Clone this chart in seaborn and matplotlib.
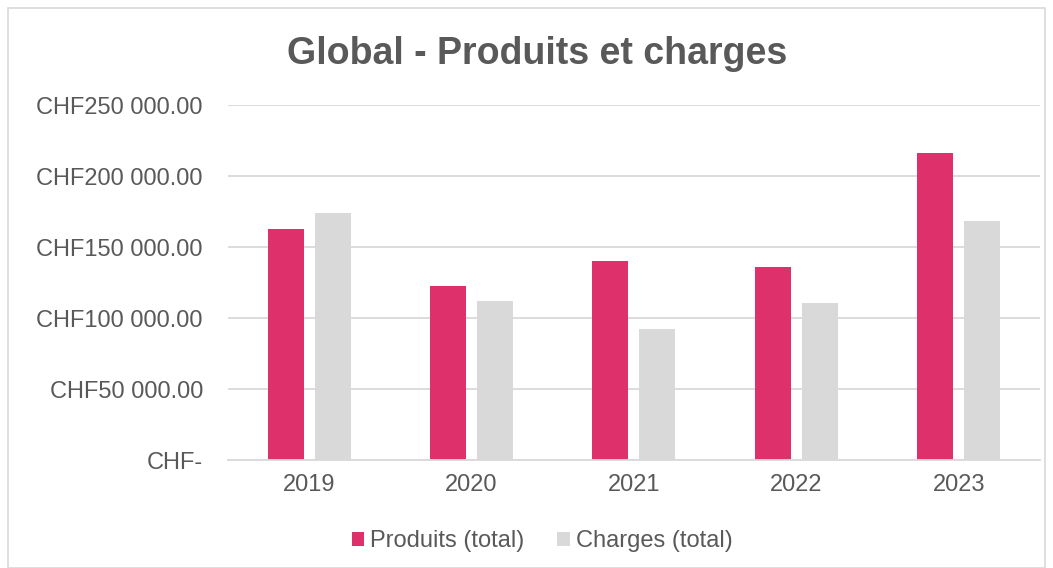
import matplotlib
matplotlib.use("Agg")
import matplotlib.pyplot as plt
import seaborn as sns
import pandas as pd
from matplotlib.ticker import FuncFormatter
from matplotlib.patches import Rectangle

years = ["2019", "2020", "2021", "2022", "2023"]
produits = [163000, 122500, 140000, 136000, 216000]
charges = [174000, 112000, 92000, 110500, 168500]
series_names = ["Produits (total)", "Charges (total)"]
colors = ["#DE306B", "#D9D9D9"]

df = pd.DataFrame({
    "year": years * 2,
    "value": produits + charges,
    "series": [series_names[0]] * len(years) + [series_names[1]] * len(years),
})

sns.set_theme(style="white")
plt.rcParams["font.family"] = ["Liberation Sans", "DejaVu Sans"]

fig = plt.figure(figsize=(10.53, 5.68), dpi=100)
ax = fig.add_axes([0.2165, 0.19, 0.771, 0.625])

sns.barplot(data=df, x="year", y="value", hue="series", palette=colors,
            width=0.58, gap=0.235, ax=ax, saturation=1, legend=True,
            linewidth=0, edgecolor="none")

ax.set_ylim(0, 250000)
ax.set_yticks([0, 50000, 100000, 150000, 200000, 250000])

def fmt(v, pos):
    if v == 0:
        return "CHF-"
    s = f"{v:,.2f}".replace(",", " ")
    return "CHF" + s

ax.yaxis.set_major_formatter(FuncFormatter(fmt))
ax.grid(axis="y", color="#D9D9D9", linewidth=1.3)
ax.set_axisbelow(True)
for s in ["top", "right", "left"]:
    ax.spines[s].set_visible(False)
ax.spines["bottom"].set_color("#D9D9D9")
ax.spines["bottom"].set_linewidth(1.3)
ax.tick_params(axis="both", length=0, labelsize=17, labelcolor="#595959")
ax.tick_params(axis="y", pad=18)
ax.tick_params(axis="x", pad=10)
ax.set_xlabel("")
ax.set_ylabel("")

fig.text(0.51, 0.905, "Global - Produits et charges", ha="center", va="center",
         fontsize=27, fontweight="bold", color="#595959")

leg = ax.legend(loc="center", bbox_to_anchor=(0.387, -0.228), ncol=2,
                frameon=False, fontsize=17, handlelength=0.52, handleheight=0.52,
                handletextpad=0.25, columnspacing=1.4)
for t in leg.get_texts():
    t.set_color("#595959")

fig.patches.append(Rectangle((8 / 1053, 0), 1 - 16 / 1053, 1 - 8 / 568,
                             transform=fig.transFigure, fill=False,
                             edgecolor="#D9D9D9", linewidth=1.2))

fig.savefig("out.png", dpi=100)
